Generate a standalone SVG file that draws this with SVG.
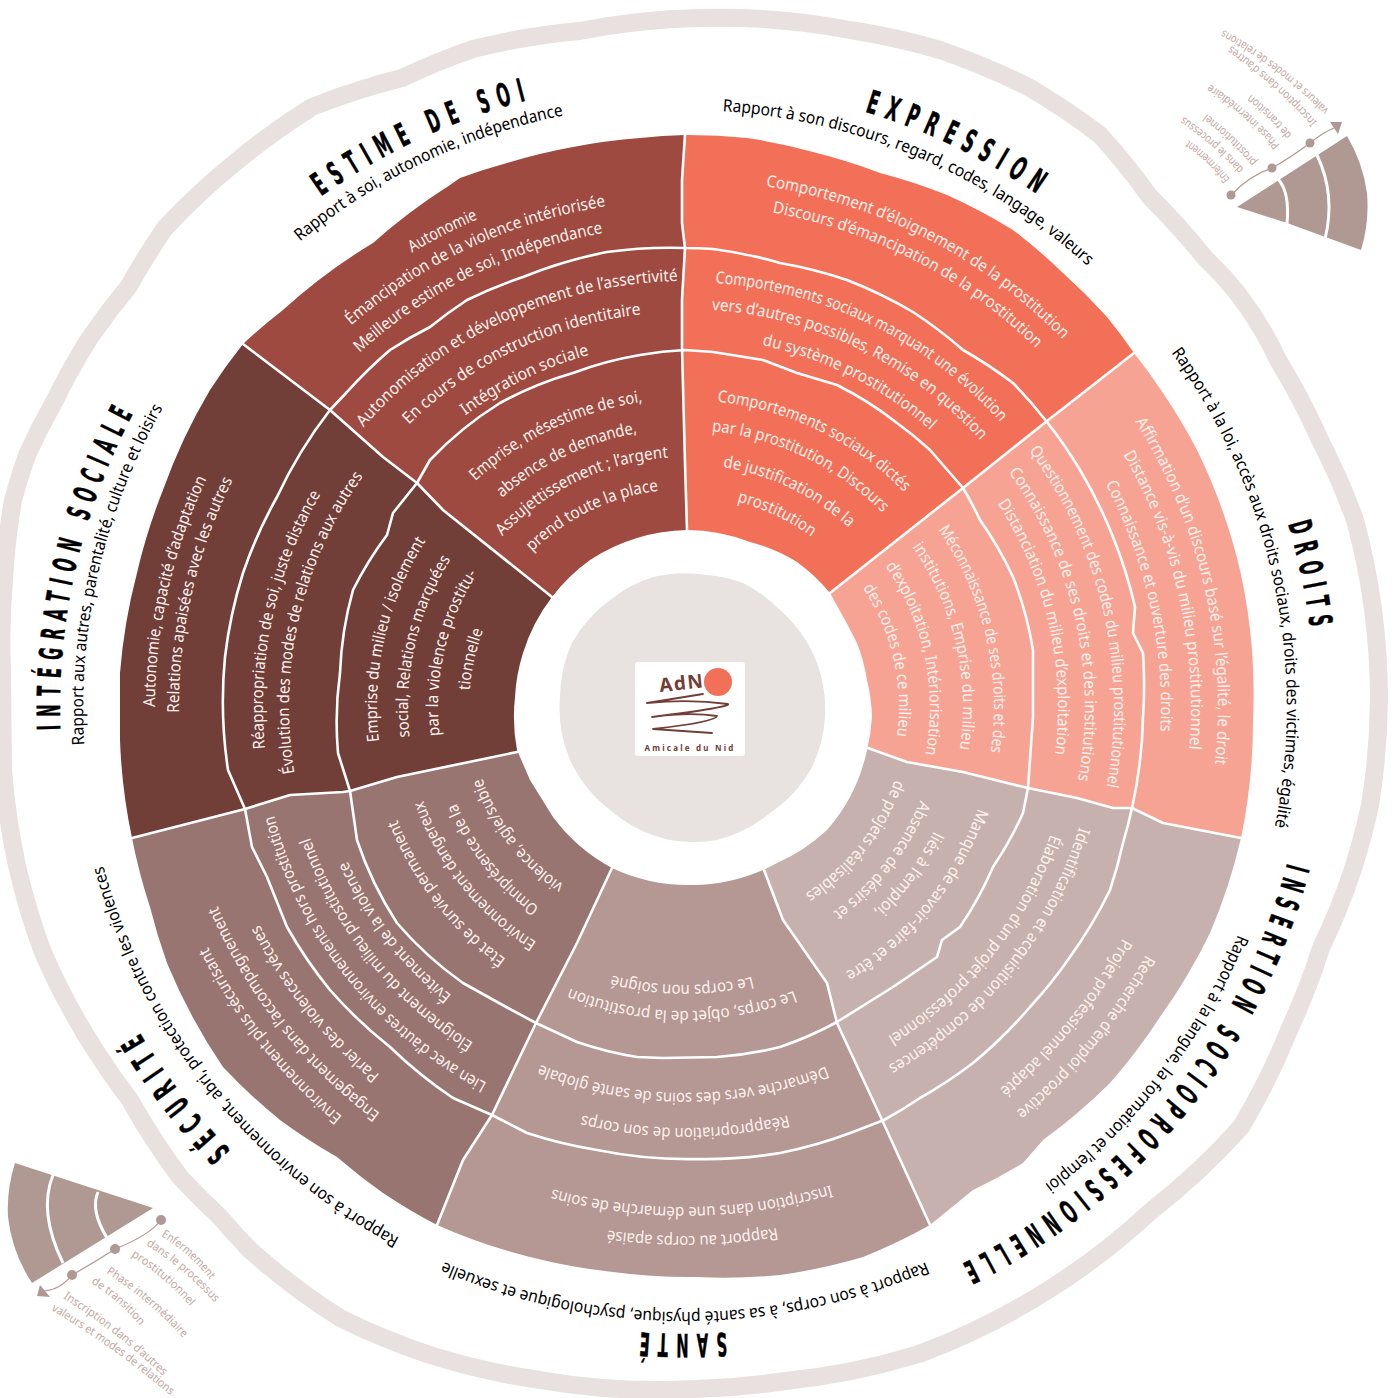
<svg xmlns="http://www.w3.org/2000/svg" width="1396" height="1398" viewBox="0 0 1396 1398">
<style>
text{font-family:"Noto Sans","Liberation Sans",sans-serif}
.l{font-size:16.5px;fill:#fdf1ed;text-anchor:middle}
.s{font-size:17px;fill:#000;text-anchor:middle}
.t{font-family:"DejaVu Sans",sans-serif;font-weight:700;font-size:32px;letter-spacing:17px;fill:#000;stroke:#000;stroke-width:.5;text-anchor:middle}
.g{font-size:11.5px;fill:#c3a7a2}
.d{fill:none;stroke:#fff;stroke-width:2.6;stroke-linejoin:round;stroke-linecap:round}
.w{fill:none;stroke:#fff;stroke-width:3;stroke-linejoin:round}
.a{fill:none;stroke:#b09893;stroke-width:1.2}
.m{fill:#b09893}
</style>
<defs>
<path id="r212" d="M473 707A212 212 0 0 1 897 707"/><path id="r214" d="M471 707A214 214 0 0 1 899 707"/><path id="r215" d="M470 707A215 215 0 0 1 900 707"/><path id="r216" d="M469 707A216 216 0 0 1 901 707"/><path id="r218" d="M467 707A218 218 0 0 1 903 707"/><path id="r222" d="M463 707A222 222 0 0 1 907 707"/>
<path id="r243" d="M442 707A243 243 0 0 1 928 707"/><path id="r245" d="M440 707A245 245 0 0 1 930 707"/><path id="r247" d="M438 707A247 247 0 0 1 932 707"/><path id="r248" d="M437 707A248 248 0 0 1 933 707"/><path id="r250" d="M435 707A250 250 0 0 1 935 707"/><path id="r253" d="M432 707A253 253 0 0 1 938 707"/>
<path id="r277" d="M408 707A277 277 0 0 1 962 707"/><path id="r278" d="M407 707A278 278 0 0 1 963 707"/><path id="r304" d="M381 707A304 304 0 0 1 989 707"/>
<path id="r307" d="M378 707A307 307 0 0 1 992 707"/><path id="r308" d="M377 707A308 308 0 0 1 993 707"/><path id="r309" d="M376 707A309 309 0 0 1 994 707"/><path id="r310" d="M375 707A310 310 0 0 1 995 707"/>
<path id="r365" d="M320 707A365 365 0 0 1 1050 707"/><path id="r370" d="M315 707A370 370 0 0 1 1055 707"/><path id="r371" d="M314 707A371 371 0 0 1 1056 707"/><path id="r373" d="M312 707A373 373 0 0 1 1058 707"/><path id="r386" d="M299 707A386 386 0 0 1 1071 707"/><path id="r387" d="M298 707A387 387 0 0 1 1072 707"/><path id="r395" d="M290 707A395 395 0 0 1 1080 707"/><path id="r396" d="M289 707A396 396 0 0 1 1081 707"/><path id="r397" d="M288 707A397 397 0 0 1 1082 707"/><path id="r398" d="M287 707A398 398 0 0 1 1083 707"/>
<path id="r400" d="M285 707A400 400 0 0 1 1085 707"/><path id="r412" d="M273 707A412 412 0 0 1 1097 707"/><path id="r421" d="M264 707A421 421 0 0 1 1106 707"/><path id="r422" d="M263 707A422 422 0 0 1 1107 707"/><path id="r425" d="M260 707A425 425 0 0 1 1110 707"/><path id="r426" d="M259 707A426 426 0 0 1 1111 707"/><path id="r429" d="M256 707A429 429 0 0 1 1114 707"/>
<path id="r476" d="M209 707A476 476 0 0 1 1161 707"/><path id="r478" d="M207 707A478 478 0 0 1 1163 707"/><path id="r481" d="M204 707A481 481 0 0 1 1166 707"/><path id="r495" d="M190 707A495 495 0 0 1 1180 707"/><path id="r500" d="M185 707A500 500 0 0 1 1185 707"/><path id="r502" d="M183 707A502 502 0 0 1 1187 707"/>
<path id="r506" d="M179 707A506 506 0 0 1 1191 707"/><path id="r507" d="M178 707A507 507 0 0 1 1192 707"/><path id="r508" d="M177 707A508 508 0 0 1 1193 707"/><path id="r523" d="M162 707A523 523 0 0 1 1208 707"/><path id="r527" d="M158 707A527 527 0 0 1 1212 707"/><path id="r529" d="M156 707A529 529 0 0 1 1214 707"/><path id="r530" d="M155 707A530 530 0 0 1 1215 707"/><path id="r533" d="M152 707A533 533 0 0 1 1218 707"/><path id="r534" d="M151 707A534 534 0 0 1 1219 707"/>
<path id="r597" d="M88 707A597 597 0 0 1 1282 707"/><path id="r598" d="M87 707A598 598 0 0 1 1283 707"/><path id="r602" d="M83 707A602 602 0 0 1 1287 707"/><path id="r603" d="M82 707A603 603 0 0 1 1288 707"/><path id="r604" d="M81 707A604 604 0 0 1 1289 707"/><path id="r605" d="M80 707A605 605 0 0 1 1290 707"/>
<path id="r622" d="M63 707A622 622 0 0 1 1307 707"/><path id="r625" d="M60 707A625 625 0 0 1 1310 707"/><path id="r627" d="M58 707A627 627 0 0 1 1312 707"/><path id="r630" d="M55 707A630 630 0 0 1 1315 707"/><path id="r635" d="M50 707A635 635 0 0 1 1320 707"/>
<path id="tr1" d="M1230 179Q1212 156 1187 139"/><path id="tr2" d="M1244 169Q1218 140 1184 117"/><path id="tr3" d="M1257 162Q1235 135 1207 114"/><path id="tr4" d="M1280 145Q1250 110 1210 84"/><path id="tr5" d="M1292 135Q1274 112 1250 94"/><path id="tr6" d="M1317 122Q1277 78 1230 45"/><path id="tr7" d="M1329 110Q1280 60 1222 29"/>
<path id="bl1" d="M161 1236Q192 1255 211 1281"/><path id="bl2" d="M146 1245Q186 1270 215 1303"/><path id="bl3" d="M131 1256Q166 1278 190 1306"/><path id="bl4" d="M106 1273Q150 1301 183 1338"/><path id="bl5" d="M91 1283Q120 1301 140 1326"/><path id="bl6" d="M63 1298Q118 1333 163 1376"/><path id="bl7" d="M51 1310Q115 1348 170 1395"/>
</defs>
<g id="band"><path d="M700 18A690 690 0 0 1 850 30A690 690 0 0 1 940 50A690 690 0 0 1 1030 88A690 690 0 0 1 1100 135A690 690 0 0 1 1150 197A690 690 0 0 1 1205 258Q1250 300 1278 360A690 690 0 0 1 1320 440A690 690 0 0 1 1355 520A690 690 0 0 1 1379 698A690 690 0 0 1 1370 805A690 690 0 0 1 1352 872A690 690 0 0 1 1321 948A690 690 0 0 1 1290 1028A690 690 0 0 1 1241 1127A690 690 0 0 1 1151 1211A690 690 0 0 1 1053 1287A690 690 0 0 1 919 1354A690 690 0 0 1 785 1381A690 690 0 0 1 696 1389A690 690 0 0 1 540 1380A690 690 0 0 1 430 1355A690 690 0 0 1 340 1318A690 690 0 0 1 250 1250A690 690 0 0 1 220 1217A690 690 0 0 1 180 1177A690 690 0 0 1 130 1100A690 690 0 0 1 95 1050A690 690 0 0 1 42 950A690 690 0 0 1 18 870A690 690 0 0 1 3 770L2 670A690 690 0 0 1 4 580A690 690 0 0 1 13 500A690 690 0 0 1 27 455A690 690 0 0 1 54 402A690 690 0 0 1 89 339A690 690 0 0 1 129 286A690 690 0 0 1 165 228A690 690 0 0 1 237 161A690 690 0 0 1 312 107A690 690 0 0 1 402 78A690 690 0 0 1 473 49A690 690 0 0 1 580 31A690 690 0 0 1 700 18Z" fill="none" stroke="#e8e1df" stroke-width="18" stroke-linejoin="round"/></g>
<g id="sector-estime"><path fill="#9e4a40" d="M685 707L552 597 443 510 417 483 383 457 330 410 243 344A570 570 0 0 1 283 310A570 570 0 0 1 373 243A570 570 0 0 1 447 187L460 178A570 570 0 0 1 507 163A570 570 0 0 1 573 147A570 570 0 0 1 640 138A570 570 0 0 1 685 135L682 180 682 223 685 248 682 300 682 347 685 463 687 530Z"/></g>
<g id="sector-expression"><path fill="#f37058" d="M685 707L687 530 685 463 682 347 682 300 685 248 682 223 682 180 685 135A570 570 0 0 1 747 138A570 570 0 0 1 813 152A570 570 0 0 1 880 173A570 570 0 0 1 947 195A570 570 0 0 1 1013 230A570 570 0 0 1 1063 273A570 570 0 0 1 1107 317A570 570 0 0 1 1134 353L1047 421 963 488 830 593Z"/></g>
<g id="sector-droits"><path fill="#f7a393" d="M685 707L830 593 963 488 1047 421 1134 353A570 570 0 0 1 1163 393A570 570 0 0 1 1197 450A570 570 0 0 1 1240 570A570 570 0 0 1 1252 650A570 570 0 0 1 1253 720A570 570 0 0 1 1241 838L1163 823 1132 808 1113 808 1077 798 1028 788 963 772 907 762 868 748Z"/></g>
<g id="sector-insertion"><path fill="#c6b1ae" d="M685 707L868 748 907 762 963 772 1028 788 1077 798 1113 808 1132 808 1163 823 1241 838A570 570 0 0 1 1210 933A570 570 0 0 1 1160 1017A570 570 0 0 1 1110 1083A570 570 0 0 1 1043 1140L1023 1163A570 570 0 0 1 973 1190L930 1225 883 1122 837 1023 827 983 813 963 783 920 764 870Z"/></g>
<g id="sector-sante"><path fill="#b59793" d="M685 707L764 870 783 920 813 963 827 983 837 1023 883 1122 930 1225A570 570 0 0 1 863 1257A570 570 0 0 1 780 1275A570 570 0 0 1 697 1277A570 570 0 0 1 613 1272A570 570 0 0 1 530 1257A570 570 0 0 1 437 1225L463 1160 492 1115 536 1023 577 943 612 868Z"/></g>
<g id="sector-securite"><path fill="#997571" d="M685 707L612 868 577 943 536 1023 492 1115 463 1160 437 1225A570 570 0 0 1 383 1193A570 570 0 0 1 337 1157A570 570 0 0 1 280 1120A570 570 0 0 1 223 1067A570 570 0 0 1 167 963A570 570 0 0 1 150 907A570 570 0 0 1 132 838L245 809 290 795 343 792 350 791 397 777 517 752Z"/></g>
<g id="sector-integration"><path fill="#713e38" d="M685 707L517 752 397 777 350 791 343 792 290 795 245 809 132 838A570 570 0 0 1 120 740L120 673A570 570 0 0 1 137 573A570 570 0 0 1 163 490A570 570 0 0 1 210 390A570 570 0 0 1 243 344L330 410 383 457 417 483 443 510 552 597Z"/></g>
<g id="connectors">
<path class="d" d="M687 530L685 463 682 347 682 300 685 248 682 223 682 180 685 135"/>
<path class="d" d="M830 593L963 488 1047 421 1134 353"/>
<path class="d" d="M868 748L907 762 963 772 1028 788 1077 798 1113 808 1132 808 1163 823 1241 838"/>
<path class="d" d="M764 870L783 920 813 963 827 983 837 1023 883 1122 930 1225"/>
<path class="d" d="M612 868L577 943 536 1023 492 1115 463 1160 437 1225"/>
<path class="d" d="M517 752L397 777 350 791 343 792 290 795 245 809 132 838"/>
<path class="d" d="M552 597L443 510 417 483 383 457 330 410 243 344"/>
<path class="d" d="M330 410L347 392A458 458 0 0 1 390 350A458 458 0 0 1 430 327A458 458 0 0 1 467 300A458 458 0 0 1 523 277A458 458 0 0 1 607 252A458 458 0 0 1 685 248A458 458 0 0 1 713 249A458 458 0 0 1 780 263A458 458 0 0 1 847 280A458 458 0 0 1 913 312A458 458 0 0 1 963 350A458 458 0 0 1 1013 383A458 458 0 0 1 1047 422A458 458 0 0 1 1080 470A458 458 0 0 1 1113 537A458 458 0 0 1 1135 607L1133 633 1143 653A458 458 0 0 1 1143 717A458 458 0 0 1 1132 808A458 458 0 0 1 1123 843A458 458 0 0 1 1110 890A458 458 0 0 1 1070 957A458 458 0 0 1 1030 1007A458 458 0 0 1 973 1063A458 458 0 0 1 920 1098A458 458 0 0 1 884 1120L853 1132A458 458 0 0 1 780 1153A458 458 0 0 1 697 1159A458 458 0 0 1 597 1150A458 458 0 0 1 527 1133L492 1115 453 1098A458 458 0 0 1 390 1047A458 458 0 0 1 330 990A458 458 0 0 1 287 927L267 877 252 847 245 809 228 770A458 458 0 0 1 225 657A458 458 0 0 1 243 573A458 458 0 0 1 277 497A458 458 0 0 1 330 410Z"/>
<path class="d" d="M417 483L430 460A356 356 0 0 1 500 403A356 356 0 0 1 573 373A356 356 0 0 1 640 355A356 356 0 0 1 685 350L713 352 763 360 797 373 837 385A356 356 0 0 1 897 423A356 356 0 0 1 930 450L963 488A356 356 0 0 1 980 520A356 356 0 0 1 1013 577A356 356 0 0 1 1033 650L1033 717 1028 788 1023 813A356 356 0 0 1 993 867A356 356 0 0 1 960 927L942 940 937 957 893 987 837 1022A356 356 0 0 1 780 1047A356 356 0 0 1 717 1057L663 1058 637 1057A356 356 0 0 1 577 1042L536 1023 508 1008 463 983A356 356 0 0 1 397 923A356 356 0 0 1 357 840L350 791 338 753A356 356 0 0 1 340 673A356 356 0 0 1 353 590A356 356 0 0 1 387 535L393 513 417 483Z"/>
</g>
<g id="centre">
<path fill="#fff" d="M687 530A178 178 0 0 1 750 542A178 178 0 0 1 797 562A178 178 0 0 1 830 593L845 620 857 643A178 178 0 0 1 867 680A178 178 0 0 1 872 717A178 178 0 0 1 867 750A178 178 0 0 1 850 797A178 178 0 0 1 827 830A178 178 0 0 1 777 863A178 178 0 0 1 763 870A178 178 0 0 1 693 885A178 178 0 0 1 612 868A178 178 0 0 1 553 817L530 780 517 750A178 178 0 0 1 515 697A178 178 0 0 1 523 653A178 178 0 0 1 552 597A178 178 0 0 1 590 560A178 178 0 0 1 637 538A178 178 0 0 1 687 530Z"/>
<path fill="#e8e2e0" d="M707 575A134 134 0 0 1 743 583A134 134 0 0 1 780 610A134 134 0 0 1 817 663A134 134 0 0 1 825 717A134 134 0 0 1 812 767A134 134 0 0 1 770 813A134 134 0 0 1 717 840A134 134 0 0 1 670 840A134 134 0 0 1 610 810A134 134 0 0 1 570 760A134 134 0 0 1 560 697A134 134 0 0 1 572 643A134 134 0 0 1 610 600A134 134 0 0 1 653 577A134 134 0 0 1 707 575Z"/>
<g id="logo">
<rect x="635" y="662" width="110" height="94" rx="3" fill="#fff"/>
<circle cx="718" cy="682" r="14" fill="#f37058"/>
<text x="660" y="692" transform="rotate(-6 660 692)" style="font-family:'Noto Sans',sans-serif;font-weight:700;font-size:19px;letter-spacing:1.5px;fill:#713e38">AdN</text>
<path d="M703 694L647 703Q690 699 728 704Q732 707 652 717Q690 712 717 716Q715 722 653 729L712 733" fill="none" stroke="#713e38" stroke-width="1.8" stroke-linejoin="round" stroke-linecap="round"/>
<text x="690" y="751" text-anchor="middle" style="font-family:'Noto Sans',sans-serif;font-weight:700;font-size:8px;letter-spacing:2.2px;fill:#713e38">Amicale du Nid</text>
</g>
</g>
<g id="estime">
<text class="t" transform="rotate(335.3 685 707)"><textPath href="#r627" startOffset="50%" textLength="236" lengthAdjust="spacingAndGlyphs">ESTIME DE SOI</textPath></text>
<text class="s" transform="rotate(334.4 685 707)"><textPath href="#r604" startOffset="50%" textLength="295" lengthAdjust="spacingAndGlyphs">Rapport à soi, autonomie, indépendance</textPath></text>
<text class="l" transform="rotate(333 685 707)"><textPath href="#r530" startOffset="50%" textLength="74" lengthAdjust="spacingAndGlyphs">Autonomie</textPath></text>
<text class="l" transform="rotate(334.9 685 707)"><textPath href="#r507" startOffset="50%" textLength="285" lengthAdjust="spacingAndGlyphs">Émancipation de la violence intériorisée</textPath></text>
<text class="l" transform="rotate(333.8 685 707)"><textPath href="#r481" startOffset="50%" textLength="275" lengthAdjust="spacingAndGlyphs">Meilleure estime de soi, Indépendance</textPath></text>
<text class="l" transform="rotate(335 685 707)"><textPath href="#r426" startOffset="50%" textLength="357" lengthAdjust="spacingAndGlyphs">Autonomisation et développement de l’assertivité</textPath></text>
<text class="l" transform="rotate(334.6 685 707)"><textPath href="#r395" startOffset="50%" textLength="262" lengthAdjust="spacingAndGlyphs">En cours de construction  identitaire</textPath></text>
<text class="l" transform="rotate(333.9 685 707)"><textPath href="#r365" startOffset="50%" textLength="139" lengthAdjust="spacingAndGlyphs">Intégration  sociale</textPath></text>
<text class="l" transform="rotate(334.6 685 707)"><textPath href="#r308" startOffset="50%" textLength="188" lengthAdjust="spacingAndGlyphs">Emprise, mésestime de soi,</textPath></text>
<text class="l" transform="rotate(334.5 685 707)"><textPath href="#r278" startOffset="50%" textLength="152" lengthAdjust="spacingAndGlyphs">absence de demande,</textPath></text>
<text class="l" transform="rotate(334.6 685 707)"><textPath href="#r250" startOffset="50%" textLength="188" lengthAdjust="spacingAndGlyphs">Assujettissement ; l’argent</textPath></text>
<text class="l" transform="rotate(334.2 685 707)"><textPath href="#r218" startOffset="50%" textLength="143" lengthAdjust="spacingAndGlyphs">prend toute la place</textPath></text>
</g>
<g id="expression">
<text class="t" transform="rotate(26 685 707)"><textPath href="#r622" startOffset="50%" textLength="200" lengthAdjust="spacingAndGlyphs">EXPRESSION</textPath></text>
<text class="s" transform="rotate(23 685 707)"><textPath href="#r597" startOffset="50%" textLength="404" lengthAdjust="spacingAndGlyphs">Rapport à son discours,  regard, codes, langage, valeurs</textPath></text>
<text class="l" transform="rotate(27.3 685 707)"><textPath href="#r527" startOffset="50%" textLength="340" lengthAdjust="spacingAndGlyphs">Comportement d’éloignement de la prostitution</textPath></text>
<text class="l" transform="rotate(27.2 685 707)"><textPath href="#r502" startOffset="50%" textLength="301" lengthAdjust="spacingAndGlyphs">Discours d’émancipation de la prostitution</textPath></text>
<text class="l" transform="rotate(26 685 707)"><textPath href="#r425" startOffset="50%" textLength="325" lengthAdjust="spacingAndGlyphs">Comportements sociaux marquant une évolution</textPath></text>
<text class="l" transform="rotate(25.9 685 707)"><textPath href="#r398" startOffset="50%" textLength="306" lengthAdjust="spacingAndGlyphs">vers d’autres possibles, Remise en question</textPath></text>
<text class="l" transform="rotate(26.8 685 707)"><textPath href="#r370" startOffset="50%" textLength="191" lengthAdjust="spacingAndGlyphs">du système prostitutionnel</textPath></text>
<text class="l" transform="rotate(25.8 685 707)"><textPath href="#r307" startOffset="50%" textLength="212" lengthAdjust="spacingAndGlyphs">Comportements sociaux dictés</textPath></text>
<text class="l" transform="rotate(25.5 685 707)"><textPath href="#r277" startOffset="50%" textLength="193" lengthAdjust="spacingAndGlyphs">par la prostitution, Discours</textPath></text>
<text class="l" transform="rotate(25.7 685 707)"><textPath href="#r243" startOffset="50%" textLength="142" lengthAdjust="spacingAndGlyphs">de justification de la</textPath></text>
<text class="l" transform="rotate(25.4 685 707)"><textPath href="#r212" startOffset="50%" textLength="83" lengthAdjust="spacingAndGlyphs">prostitution</textPath></text>
</g>
<g id="droits">
<text class="t" transform="rotate(78.3 685 707)"><textPath href="#r630" startOffset="50%" textLength="114" lengthAdjust="spacingAndGlyphs">DROITS</textPath></text>
<text class="s" transform="rotate(77.7 685 707)"><textPath href="#r602" startOffset="50%" textLength="500" lengthAdjust="spacingAndGlyphs">Rapport à la loi, accès aux droits sociaux, droits des victimes, égalité</textPath></text>
<text class="l" transform="rotate(76.9 685 707)"><textPath href="#r533" startOffset="50%" textLength="359" lengthAdjust="spacingAndGlyphs">Affirmation d’un discours basé sur l’égalité, le droit</textPath></text>
<text class="l" transform="rotate(77.4 685 707)"><textPath href="#r506" startOffset="50%" textLength="307" lengthAdjust="spacingAndGlyphs">Distance vis-à-vis du milieu prostitutionnel</textPath></text>
<text class="l" transform="rotate(77.5 685 707)"><textPath href="#r476" startOffset="50%" textLength="257" lengthAdjust="spacingAndGlyphs">Connaissance et ouverture des droits</textPath></text>
<text class="l" transform="rotate(77 685 707)"><textPath href="#r429" startOffset="50%" textLength="355" lengthAdjust="spacingAndGlyphs">Questionnement des codes du milieu prostitutionnel</textPath></text>
<text class="l" transform="rotate(77.3 685 707)"><textPath href="#r400" startOffset="50%" textLength="325" lengthAdjust="spacingAndGlyphs">Connaissance de ses droits et des institutions</textPath></text>
<text class="l" transform="rotate(77.1 685 707)"><textPath href="#r373" startOffset="50%" textLength="263" lengthAdjust="spacingAndGlyphs">Distanciation du milieu d’exploitation</textPath></text>
<text class="l" transform="rotate(76.7 685 707)"><textPath href="#r309" startOffset="50%" textLength="234" lengthAdjust="spacingAndGlyphs">Méconnaissance de ses droits et des</textPath></text>
<text class="l" transform="rotate(76.8 685 707)"><textPath href="#r278" startOffset="50%" textLength="213" lengthAdjust="spacingAndGlyphs">institutions, Emprise du milieu</textPath></text>
<text class="l" transform="rotate(78 685 707)"><textPath href="#r245" startOffset="50%" textLength="198" lengthAdjust="spacingAndGlyphs">d’exploitation, Intériorisation</textPath></text>
<text class="l" transform="rotate(77 685 707)"><textPath href="#r214" startOffset="50%" textLength="156" lengthAdjust="spacingAndGlyphs">des codes de ce milieu</textPath></text>
</g>
<g id="insertion">
<text class="t" transform="rotate(129.4 685 707)"><textPath href="#r622" startOffset="50%" textLength="540" lengthAdjust="spacingAndGlyphs">INSERTION SOCIOPROFESSIONNELLE</textPath></text>
<text class="s" transform="rotate(127.7 685 707)"><textPath href="#r598" startOffset="50%" textLength="320" lengthAdjust="spacingAndGlyphs">Rapport à la langue, la formation et l’emploi</textPath></text>
<text class="l" transform="rotate(129 685 707)"><textPath href="#r310" startOffset="50%" textLength="216" lengthAdjust="spacingAndGlyphs">Manque de savoir-faire et être</textPath></text>
<text class="l" transform="rotate(126.9 685 707)"><textPath href="#r278" startOffset="50%" textLength="101" lengthAdjust="spacingAndGlyphs">liés à l’emploi,</textPath></text>
<text class="l" transform="rotate(127.9 685 707)"><textPath href="#r253" startOffset="50%" textLength="144" lengthAdjust="spacingAndGlyphs">Absence de désirs et</textPath></text>
<text class="l" transform="rotate(128.2 685 707)"><textPath href="#r222" startOffset="50%" textLength="148" lengthAdjust="spacingAndGlyphs">de projets réalisables</textPath></text>
<text class="l" transform="rotate(128.7 685 707)"><textPath href="#r412" startOffset="50%" textLength="313" lengthAdjust="spacingAndGlyphs">Identification et acquisition de compétences</textPath></text>
<text class="l" transform="rotate(128.8 685 707)"><textPath href="#r387" startOffset="50%" textLength="265" lengthAdjust="spacingAndGlyphs">Élaboration d’un projet professionnel</textPath></text>
<text class="l" transform="rotate(129.5 685 707)"><textPath href="#r523" startOffset="50%" textLength="205" lengthAdjust="spacingAndGlyphs">Recherche d’emploi proactive</textPath></text>
<text class="l" transform="rotate(129.2 685 707)"><textPath href="#r495" startOffset="50%" textLength="196" lengthAdjust="spacingAndGlyphs">Projet professionnel adapté</textPath></text>
</g>
<g id="sante">
<text class="t" transform="rotate(180.5 685 707)"><textPath href="#r627" startOffset="50%" textLength="94" lengthAdjust="spacingAndGlyphs">SANTÉ</textPath></text>
<text class="s" transform="rotate(180 685 707)"><textPath href="#r605" startOffset="50%" textLength="496" lengthAdjust="spacingAndGlyphs">Rapport à son corps, à sa santé physique, psychologique et sexuelle</textPath></text>
<text class="l" transform="rotate(180.6 685 707)"><textPath href="#r278" startOffset="50%" textLength="142" lengthAdjust="spacingAndGlyphs">Le corps non soigné</textPath></text>
<text class="l" transform="rotate(180.6 685 707)"><textPath href="#r304" startOffset="50%" textLength="230" lengthAdjust="spacingAndGlyphs">Le corps, objet de la prostitution</textPath></text>
<text class="l" transform="rotate(180.3 685 707)"><textPath href="#r386" startOffset="50%" textLength="293" lengthAdjust="spacingAndGlyphs">Démarche vers des soins de santé globale</textPath></text>
<text class="l" transform="rotate(180 685 707)"><textPath href="#r421" startOffset="50%" textLength="208" lengthAdjust="spacingAndGlyphs">Réappropriation de son corps</textPath></text>
<text class="l" transform="rotate(179.2 685 707)"><textPath href="#r500" startOffset="50%" textLength="282" lengthAdjust="spacingAndGlyphs">Inscription dans une démarche de soins</textPath></text>
<text class="l" transform="rotate(179.2 685 707)"><textPath href="#r529" startOffset="50%" textLength="170" lengthAdjust="spacingAndGlyphs">Rapport au corps apaisé</textPath></text>
</g>
<g id="securite">
<text class="t" transform="rotate(232.8 685 707)"><textPath href="#r635" startOffset="50%" textLength="158" lengthAdjust="spacingAndGlyphs">SÉCURITÉ</textPath></text>
<text class="s" transform="rotate(231.5 685 707)"><textPath href="#r603" startOffset="50%" textLength="489" lengthAdjust="spacingAndGlyphs">Rapport à son environnement, abri, protection contre les violences</textPath></text>
<text class="l" transform="rotate(232.5 685 707)"><textPath href="#r215" startOffset="50%" textLength="137" lengthAdjust="spacingAndGlyphs">violence, agie/subie</textPath></text>
<text class="l" transform="rotate(231.6 685 707)"><textPath href="#r248" startOffset="50%" textLength="135" lengthAdjust="spacingAndGlyphs">Omniprésence de la</textPath></text>
<text class="l" transform="rotate(231.3 685 707)"><textPath href="#r278" startOffset="50%" textLength="185" lengthAdjust="spacingAndGlyphs">Environnement dangereux</textPath></text>
<text class="l" transform="rotate(232 685 707)"><textPath href="#r309" startOffset="50%" textLength="179" lengthAdjust="spacingAndGlyphs">État de survie permanent</textPath></text>
<text class="l" transform="rotate(232.2 685 707)"><textPath href="#r371" startOffset="50%" textLength="172" lengthAdjust="spacingAndGlyphs">Évitement de la violence</textPath></text>
<text class="l" transform="rotate(231.5 685 707)"><textPath href="#r397" startOffset="50%" textLength="268" lengthAdjust="spacingAndGlyphs">Éloignement du milieu prostitutionnel</textPath></text>
<text class="l" transform="rotate(231.5 685 707)"><textPath href="#r425" startOffset="50%" textLength="352" lengthAdjust="spacingAndGlyphs">Lien avec d’autres environnements hors prostitution</textPath></text>
<text class="l" transform="rotate(231.3 685 707)"><textPath href="#r478" startOffset="50%" textLength="194" lengthAdjust="spacingAndGlyphs">Parler des violences vécues</textPath></text>
<text class="l" transform="rotate(231.9 685 707)"><textPath href="#r508" startOffset="50%" textLength="267" lengthAdjust="spacingAndGlyphs">Engagement dans l’accompagnement</textPath></text>
<text class="l" transform="rotate(231.6 685 707)"><textPath href="#r534" startOffset="50%" textLength="218" lengthAdjust="spacingAndGlyphs">Environnement plus sécurisant</textPath></text>
</g>
<g id="integration">
<text class="t" transform="rotate(283.3 685 707)"><textPath href="#r625" startOffset="50%" textLength="336" lengthAdjust="spacingAndGlyphs">INTÉGRATION SOCIALE</textPath></text>
<text class="s" transform="rotate(283.1 685 707)"><textPath href="#r602" startOffset="50%" textLength="351" lengthAdjust="spacingAndGlyphs">Rapport aux autres, parentalité, culture et loisirs</textPath></text>
<text class="l" transform="rotate(282.75 685 707)"><textPath href="#r530" startOffset="50%" textLength="236" lengthAdjust="spacingAndGlyphs">Autonomie,  capacité d’adaptation</textPath></text>
<text class="l" transform="rotate(283 685 707)"><textPath href="#r506" startOffset="50%" textLength="241" lengthAdjust="spacingAndGlyphs">Relations apaisées avec  les autres</textPath></text>
<text class="l" transform="rotate(282.3 685 707)"><textPath href="#r422" startOffset="50%" textLength="265" lengthAdjust="spacingAndGlyphs">Réappropriation de soi, juste distance</textPath></text>
<text class="l" transform="rotate(283 685 707)"><textPath href="#r396" startOffset="50%" textLength="313" lengthAdjust="spacingAndGlyphs">Évolution des modes de relations aux autres</textPath></text>
<text class="l" transform="rotate(283.1 685 707)"><textPath href="#r308" startOffset="50%" textLength="210" lengthAdjust="spacingAndGlyphs">Emprise du milieu / isolement</textPath></text>
<text class="l" transform="rotate(283 685 707)"><textPath href="#r277" startOffset="50%" textLength="186" lengthAdjust="spacingAndGlyphs">social, Relations marquées</textPath></text>
<text class="l" transform="rotate(283 685 707)"><textPath href="#r247" startOffset="50%" textLength="170" lengthAdjust="spacingAndGlyphs">par la violence prostitu-</textPath></text>
<text class="l" transform="rotate(282.6 685 707)"><textPath href="#r216" startOffset="50%" textLength="62" lengthAdjust="spacingAndGlyphs">tionnelle</textPath></text>
</g>
<g id="legend-top">
<path class="m" d="M1237 207L1347 136A150 150 0 0 1 1367 193A150 150 0 0 1 1361 250L1287 223Z"/>
<path class="w" d="M1278 179Q1290 192 1287 224"/><path class="w" d="M1317 155Q1336 195 1325 239"/>
<path class="a" d="M1231 195Q1250 175 1272 168Q1290 158 1310 143Q1322 133 1336 127"/>
<circle class="m" cx="1231" cy="195" r="4.5"/><circle class="m" cx="1272" cy="168" r="4.5"/><circle class="m" cx="1310" cy="143" r="4.5"/>
<path class="m" d="M1330 122L1342 122 1338 134Z"/>
<text class="g"><textPath href="#tr1" textLength="57" lengthAdjust="spacingAndGlyphs">Enfermement</textPath></text>
<text class="g"><textPath href="#tr2" textLength="80" lengthAdjust="spacingAndGlyphs">dans le processus</textPath></text>
<text class="g"><textPath href="#tr3" textLength="70" lengthAdjust="spacingAndGlyphs">prostitutionnel</textPath></text>
<text class="g"><textPath href="#tr4" textLength="93" lengthAdjust="spacingAndGlyphs">Phase intermédiaire</textPath></text>
<text class="g"><textPath href="#tr5" textLength="58" lengthAdjust="spacingAndGlyphs">de transition</textPath></text>
<text class="g"><textPath href="#tr6" textLength="115" lengthAdjust="spacingAndGlyphs">Inscription dans d’autres</textPath></text>
<text class="g"><textPath href="#tr7" textLength="133" lengthAdjust="spacingAndGlyphs">valeurs et modes de relations</textPath></text>
</g>
<g id="legend-bottom">
<path class="m" d="M153 1208L15 1163A150 150 0 0 0 8 1217A150 150 0 0 0 32 1283Z"/>
<path class="w" d="M98 1192Q90 1210 107 1238"/><path class="w" d="M53 1175Q38 1212 63 1263"/>
<path class="a" d="M161 1220Q150 1235 115 1249Q95 1262 72 1275Q60 1290 44 1291"/>
<circle class="m" cx="161" cy="1220" r="5"/><circle class="m" cx="115" cy="1249" r="5"/><circle class="m" cx="72" cy="1275" r="5"/>
<path class="m" d="M40 1285L37 1296 50 1297Z"/>
<text class="g"><textPath href="#bl1" textLength="66" lengthAdjust="spacingAndGlyphs">Enfermement</textPath></text>
<text class="g"><textPath href="#bl2" textLength="90" lengthAdjust="spacingAndGlyphs">dans le processus</textPath></text>
<text class="g"><textPath href="#bl3" textLength="78" lengthAdjust="spacingAndGlyphs">prostitutionnel</textPath></text>
<text class="g"><textPath href="#bl4" textLength="101" lengthAdjust="spacingAndGlyphs">Phase intermédiaire</textPath></text>
<text class="g"><textPath href="#bl5" textLength="65" lengthAdjust="spacingAndGlyphs">de transition</textPath></text>
<text class="g"><textPath href="#bl6" textLength="127" lengthAdjust="spacingAndGlyphs">Inscription dans d’autres</textPath></text>
<text class="g"><textPath href="#bl7" textLength="147" lengthAdjust="spacingAndGlyphs">valeurs et modes de relations</textPath></text>
</g>
</svg>
